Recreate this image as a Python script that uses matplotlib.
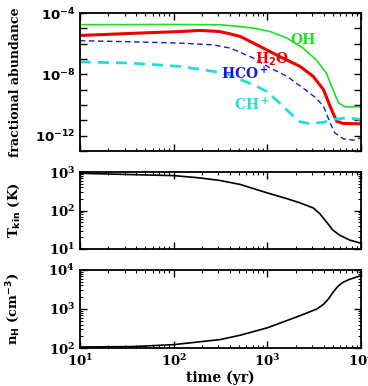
import numpy as np
import matplotlib
matplotlib.use("Agg")
import matplotlib.pyplot as plt
from matplotlib.ticker import LogLocator, FixedLocator, NullFormatter, LogFormatterMathtext

# ---- data ----
t_oh = [10, 100, 309, 468, 708, 1072, 1622, 2399, 3311, 4266, 5012, 5754, 6761, 10000]
ab_oh = [1.74e-5, 1.82e-5, 1.74e-5, 1.41e-5, 1.05e-5, 6.3e-6, 2.34e-6, 5.25e-7, 9.1e-8,
         1.23e-8, 1.0e-9, 1.38e-10, 7.6e-11, 7.6e-11]

t_h2o = [10, 37, 117, 191, 309, 398, 513, 832, 1349, 2239, 3090, 3981, 4677, 5495, 6457, 10000]
ab_h2o = [3.47e-6, 4.79e-6, 6.3e-6, 7.4e-6, 6.3e-6, 4.47e-6, 3.02e-6, 6.8e-7, 1.48e-7, 3.3e-8,
          7.4e-9, 1.0e-9, 8.3e-11, 8.7e-12, 6.2e-12, 5.9e-12]

t_hco = [10, 34, 117, 263, 398, 468, 708, 1072, 1622, 2399, 3311, 3981, 4677, 5248, 6457, 8318, 10000]
ab_hco = [1.58e-6, 1.35e-6, 1.1e-6, 8.5e-7, 5.25e-7, 3.55e-7, 1.17e-7, 2.63e-8, 7.4e-9, 1.29e-9,
          2.88e-10, 8.3e-11, 6.8e-12, 1.51e-12, 6.3e-13, 5.0e-13, 7.2e-13]

t_chp = [10, 34, 117, 263, 398, 468, 708, 977, 1349, 1738, 2239, 2818, 3981, 5012, 7079, 10000]
ab_chp = [6.5e-8, 5.5e-8, 3.3e-8, 1.58e-8, 9.5e-9, 5.75e-9, 2.14e-9, 7.9e-10, 1.38e-10, 3.1e-11,
          7.9e-12, 6.2e-12, 7.4e-12, 1.12e-11, 1.45e-11, 1.12e-11]

t_tk = [10, 100, 191, 309, 513, 1000, 1622, 2239, 3090, 3631, 4266, 5012, 5888, 7586, 10000]
tkin = [933, 813, 708, 610, 479, 288, 204, 158, 117, 83, 51, 31, 23, 17, 14.1]

t_nh = [10, 37, 100, 316, 513, 1000, 2239, 3388, 3981, 4467, 5012, 5623, 6310, 7586, 10000]
n_h = [107, 110, 123, 166, 214, 331, 676, 1000, 1318, 1778, 2630, 3715, 4677, 5754, 7079]

species_labels = ["OH", r"H$_2$O", r"HCO$^+$", r"CH$^+$"]
label_pos_t = [2400, 1120, 575, 680]
label_pos_ab = [1.8e-6, 1.0e-7, 1.1e-8, 1.05e-10]
species_colors = ["#22dd22", "#ee0000", "#1a1acc", "#22dddd"]

xticks = [10, 100, 1000, 10000]

plt.rcParams['font.family'] = ['DejaVu Serif']
plt.rcParams['font.weight'] = 'bold'
plt.rcParams['mathtext.default'] = 'bf'
plt.rcParams['axes.linewidth'] = 1.3

fig = plt.figure(figsize=(3.68, 3.86), dpi=100)
L, W = 0.217, 0.764
ax1 = fig.add_axes([L, 0.609, W, 0.357])
ax2 = fig.add_axes([L, 0.355, W, 0.199])
ax3 = fig.add_axes([L, 0.098, W, 0.203])

ax1.plot(t_oh, ab_oh, color=species_colors[0], lw=1.2)
ax1.plot(t_h2o, ab_h2o, color=species_colors[1], lw=2.2)
ax1.plot(t_hco, ab_hco, color=species_colors[2], lw=1.0, ls=(0, (4, 2.5)))
ax1.plot(t_chp, ab_chp, color=species_colors[3], lw=2.0, ls=(0, (4, 2.5)))
for lab, xt, yt, c in zip(species_labels, label_pos_t, label_pos_ab, species_colors):
    ax1.text(xt, yt, lab, color=c, fontsize=10, fontweight='bold', ha='center', va='center')

ax2.plot(t_tk, tkin, color='black', lw=1.2)
ax3.plot(t_nh, n_h, color='black', lw=1.2)

for ax in (ax1, ax2, ax3):
    ax.set_xscale('log')
    ax.set_yscale('log')
    ax.set_xlim(10, 10000)
    ax.xaxis.set_major_locator(FixedLocator(xticks))
    ax.xaxis.set_minor_locator(LogLocator(base=10, subs=np.arange(2, 10), numticks=20))
    ax.xaxis.set_minor_formatter(NullFormatter())
    ax.tick_params(which='both', direction='in', top=True, right=True, labelsize=9.5)
    ax.tick_params(which='major', length=5, width=1.0)
    ax.tick_params(which='minor', length=2.5, width=0.8)

ax1.set_ylim(1e-13, 1e-4)
ax1.yaxis.set_major_locator(FixedLocator([1e-13, 1e-12, 1e-11, 1e-10, 1e-9, 1e-8, 1e-7, 1e-6, 1e-5, 1e-4]))
ax1.yaxis.set_minor_locator(FixedLocator([]))
def f1(v, pos):
    e = int(round(np.log10(v)))
    return r"$10^{%d}$" % e if e in (-4, -8, -12) else ""
ax1.yaxis.set_major_formatter(plt.FuncFormatter(f1))
ax1.set_xticklabels([])
ax1.set_ylabel("fractional abundance", fontsize=9, fontweight='bold')

ax2.set_ylim(10, 1000)
ax2.yaxis.set_major_formatter(LogFormatterMathtext())
ax2.yaxis.set_minor_locator(LogLocator(base=10, subs=np.arange(2, 10), numticks=20))
ax2.yaxis.set_minor_formatter(NullFormatter())
ax2.set_xticklabels([])
ax2.set_ylabel(r"T$_{\rm kin}$ (K)", fontsize=9.5, fontweight='bold')

ax3.set_ylim(100, 10000)
ax3.yaxis.set_major_formatter(LogFormatterMathtext())
ax3.yaxis.set_minor_locator(LogLocator(base=10, subs=np.arange(2, 10), numticks=20))
ax3.yaxis.set_minor_formatter(NullFormatter())
ax3.xaxis.set_major_formatter(LogFormatterMathtext())
ax3.set_ylabel(r"n$_{\rm H}$ (cm$^{-3}$)", fontsize=9.5, fontweight='bold')
ax3.set_xlabel("time (yr)", fontsize=10, fontweight='bold', labelpad=1)

for ax in (ax1, ax2, ax3):
    ax.yaxis.set_label_coords(-0.205, 0.5)

fig.savefig("out.png", dpi=100)
